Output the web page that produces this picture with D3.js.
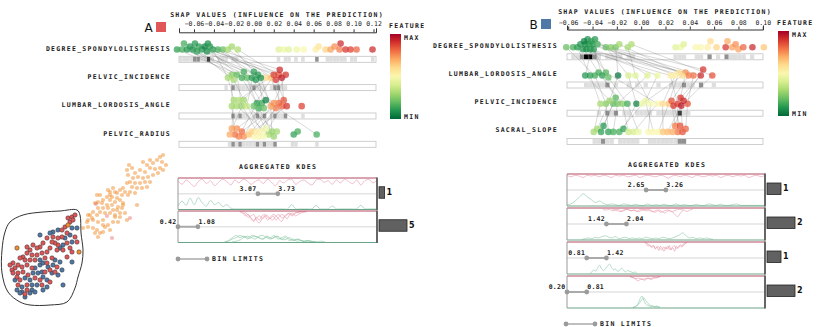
<!DOCTYPE html>
<html><head><meta charset="utf-8">
<script src="https://cdn.jsdelivr.net/npm/d3@7/dist/d3.min.js"></script>
<style>
html,body{margin:0;padding:0;background:#fff;}
svg{display:block;}
.lbl{font-family:"DejaVu Sans Mono",monospace;font-weight:bold;font-size:6.5px;letter-spacing:1.3px;fill:#1a1a1a;}
.tick text{font-family:"DejaVu Sans Mono",monospace;font-size:6.5px;fill:#222;}
</style></head><body>
<svg id="chart" width="830" height="327"></svg>
<script>
// ---------------- DATA ----------------
const leftFeatures = ["DEGREE_SPONDYLOLISTHESIS","PELVIC_INCIDENCE","LUMBAR_LORDOSIS_ANGLE","PELVIC_RADIUS"];
const rightFeatures = ["DEGREE_SPONDYLOLISTHESIS","LUMBAR_LORDOSIS_ANGLE","PELVIC_INCIDENCE","SACRAL_SLOPE"];
const leftTicks = [-0.06,-0.04,-0.02,0,0.02,0.04,0.06,0.08,0.10,0.12];
const rightTicks = [-0.06,-0.04,-0.02,0,0.02,0.04,0.06,0.08,0.10];

// SHAP values of the selected (linked) instances, one array per feature row
const leftLinkedShap = [
 [-0.077,-0.072,-0.067,-0.061,-0.057,-0.052,-0.049,-0.046,-0.041,-0.036,-0.031,-0.026,-0.022,-0.016,-0.064,-0.055,-0.047,-0.070,-0.059,-0.044],
 [-0.007,0.012,-0.022,0.002,-0.017,0.025,-0.012,0.007,-0.026,0.017,-0.002,0.022,0.000,0.028,-0.020,0.032,-0.010,0.004,0.020,0.026],
 [0.008,-0.017,-0.022,0.022,-0.012,0.025,0.003,0.017,-0.020,0.028,0.012,0.033,-0.007,0.030,-0.010,0.020,0.005,0.010,0.000,-0.015],
 [-0.010,0.015,-0.019,0.000,-0.024,0.005,-0.015,0.018,-0.022,0.010,0.063,-0.005,0.023,-0.012,0.008,-0.002,0.020,-0.017,0.012,0.003]
];
// normalized feature values (0 = min, 1 = max)
const leftLinkedVal = [
 [0.12,0.15,0.1,0.08,0.12,0.1,0.05,0.08,0.12,0.15,0.2,0.3,0.3,0.32,0.1,0.12,0.08,0.15,0.1,0.12],
 [0.2,0.6,0.25,0.1,0.2,0.85,0.15,0.08,0.3,0.65,0.1,0.9,0.12,0.95,0.3,0.9,0.15,0.1,0.88,0.92],
 [0.15,0.3,0.3,0.78,0.28,0.8,0.12,0.72,0.3,0.82,0.05,0.9,0.35,0.85,0.3,0.75,0.15,0.2,0.2,0.32],
 [0.75,0.3,0.8,0.5,0.7,0.52,0.78,0.28,0.72,0.48,0.15,0.65,0.3,0.8,0.5,0.62,0.28,0.75,0.45,0.55]
];
const leftExtraShap = [[0.025,0.030,0.035,0.043,0.050,0.062,0.065,0.072,0.077,0.081,0.086,0.087,0.092,0.097,0.103,0.119],[],[0.048],[0.040,0.044]];
const leftExtraVal = [[0.42,0.45,0.42,0.45,0.5,0.55,0.58,0.62,0.72,0.75,0.78,0.92,0.9,0.88,0.82,0.92],[],[0.88],[0.12,0.15]];

const rightLinkedShap = [
 [-0.0616,-0.056,-0.0525,-0.048,-0.046,-0.043,-0.040,-0.038,-0.029,-0.025,-0.021,-0.018,-0.011,-0.008,-0.050,-0.044,-0.041,-0.047,-0.039,-0.045,-0.036,-0.042],
 [-0.038,0.024,-0.042,0.0365,-0.029,0.043,-0.046,0.0052,-0.0105,0.051,-0.019,0.031,-0.0047,0.0585,-0.035,0.028,-0.032,0.039,-0.027,0.0134,0.049,0.034],
 [-0.029,0.030,-0.0335,0.0324,0.0134,0.0382,-0.023,-0.0195,-0.0039,0.0349,-0.026,0.0225,0.0077,0.033,-0.0154,0.0176,-0.021,0.025,-0.0113,0.0035,0.0266,0.001],
 [-0.027,0.030,-0.039,0.034,-0.0063,0.0366,-0.031,-0.023,-0.0146,0.0258,-0.036,0.0143,0.006,0.0217,-0.0105,0.018,-0.033,0.028,-0.0022,0.010,0.032,-0.018]
];
const rightLinkedVal = [
 [0.2,0.15,0.12,0.1,0.08,0.1,0.12,0.1,0.2,0.25,0.22,0.3,0.3,0.32,0.1,0.08,0.12,0.05,0.1,0.08,0.15,0.1],
 [0.15,0.55,0.12,0.75,0.18,0.8,0.1,0.42,0.4,0.9,0.02,0.58,0.42,0.85,0.15,0.55,0.12,0.78,0.2,0.45,0.92,0.6],
 [0.25,0.88,0.3,0.9,0.5,0.85,0.2,0.22,0.05,0.92,0.28,0.65,0.48,0.95,0.25,0.6,0.18,0.85,0.15,0.45,0.9,0.45],
 [0.12,0.8,0.3,0.85,0.4,0.82,0.1,0.15,0.12,0.7,0.3,0.5,0.5,0.68,0.38,0.65,0.12,0.78,0.45,0.5,0.85,0.15]
];
const rightExtraShap = [[0.0283,0.0325,0.035,0.0448,0.049,0.0547,0.057,0.062,0.0695,0.071,0.075,0.0777,0.080,0.084,0.0915,0.1009],[],[],[]];
const rightExtraVal = [[0.42,0.45,0.42,0.5,0.5,0.55,0.6,0.62,0.9,0.7,0.72,0.75,0.72,0.82,0.92,0.65],[],[],[]];

// Aggregated KDE bins
const leftKdeDomain = [0.42, 7.02];
const leftBinLimits = [[3.07,3.73],[0.42,1.08]];
const leftBinCounts = [1,5];
const rightKdeDomain = [0.20, 6.33];
const rightBinLimits = [[2.65,3.26],[1.42,2.04],[0.81,1.42],[0.20,0.81]];
const rightBinCounts = [1,2,1,2];

// KDE curves (density samples between "from" and "to" feature values)
const leftKdeRed = [
 [{from:0.42,to:7.02,v:[0.15,0.4,0.1,0.3,0.55,0.2,0.05,0.35,0.15,0.5,0.25,0.05,0.2,0.45,0.1,0.3,0.05,0.15,0.4,0.2,0.1,0.35,0.05,0.25,0.5,0.15,0.3,0.1,0.05,0.4,0.2,0.1,0.3,0.45,0.1,0.05,0.25,0.15,0.4,0.1,0.3,0.05,0.2,0.35,0.1,0.45,0.15,0.05,0.3,0.1]}],
 [{from:2.47,to:4.68,v:[0,0.1,0.3,0.2,0.5,0.7,0.4,0.6,0.3,0.2,0.4,0.5,0.3,0.6,0.4,0.2,0.3,0.5,0.2,0.1,0.3,0.2,0.1,0.05,0]},
  {from:2.47,to:4.68,v:[0,0.05,0.2,0.4,0.3,0.2,0.6,0.8,0.5,0.3,0.6,0.4,0.2,0.3,0.5,0.7,0.4,0.2,0.1,0.3,0.1,0.05,0,0,0]},
  {from:2.6,to:4.5,v:[0,0.15,0.35,0.6,0.45,0.3,0.5,0.25,0.4,0.6,0.35,0.2,0.45,0.3,0.15,0.25,0.1,0.05,0]}]
];
const leftKdeGreen = [
 [{from:0.42,to:7.02,v:[0.2,0.55,0.25,0.75,0.3,0.8,0.4,0.2,0.6,0.3,0.45,0.15,0.3,0.05,0,0,0,0,0,0,0,0,0,0,0,0,0,0,0.3,0,0,0,0,0,0.25,0,0,0,0.2,0,0,0,0,0,0,0.25,0,0,0,0]}],
 [{from:1.97,to:5.0,v:[0,0.1,0.3,0.45,0.3,0.4,0.2,0.45,0.4,0.3,0.2,0.4,0.3,0.45,0.2,0.3,0.4,0.2,0.1,0.2,0.1,0.05,0.1,0,0]},
  {from:1.97,to:5.0,v:[0,0.05,0.2,0.3,0.45,0.35,0.4,0.3,0.2,0.4,0.45,0.3,0.2,0.3,0.4,0.2,0.3,0.1,0.2,0.05,0.1,0,0.05,0,0]},
  {from:2.2,to:5.3,v:[0,0.05,0.15,0.35,0.25,0.4,0.3,0.2,0.35,0.25,0.4,0.2,0.15,0.3,0.1,0.2,0.05,0.1,0.05,0,0.05,0]}]
];
const rightKdeRed = [
 [{from:0.20,to:6.33,v:[0.05,0.15,0.05,0.1,0.2,0.05,0.1,0.05,0.15,0.05,0.1,0.2,0.05,0.1,0.05,0.15,0.1,0.05,0.2,0.1,0.05,0.1,0.15,0.05,0.1,0.25,0.1,0.05,0.15,0.05,0.1,0.2,0.05,0.1,0.15,0.05,0.1,0.05,0.2,0.1,0.05,0.15,0.05,0.1,0.05,0.2,0.1,0.05,0.15,0.05]}],
 [{from:1.31,to:4.10,v:[0.05,0.1,0.05,0.15,0.1,0.05,0.2,0.1,0.05,0.15,0.1,0.2,0.05,0.1,0.15,0.05,0.2,0.25,0.1,0.2,0.3,0.15,0.2,0.35,0.55,0.3,0.1,0.2,0.1,0.05]},
  {from:1.6,to:3.8,v:[0.05,0.1,0.2,0.1,0.05,0.15,0.1,0.2,0.1,0.05,0.15,0.2,0.1,0.25,0.15,0.1,0.2,0.1,0.05,0.1]}],
 [{from:2.61,to:3.91,v:[0,0.1,0.25,0.15,0.35,0.2,0.45,0.3,0.55,0.25,0.4,0.6,0.3,0.45,0.2,0.5,0.35,0.6,0.25,0.4,0.2,0.3,0.1,0.05,0]},
  {from:2.61,to:3.91,v:[0,0.05,0.15,0.3,0.2,0.4,0.25,0.35,0.5,0.3,0.45,0.25,0.5,0.35,0.2,0.4,0.3,0.15,0.25,0.1,0]}],
 [{from:2.15,to:3.08,v:[0,0.05,0.1,0.2,0.3,0.2,0.15,0.25,0.2,0.1,0.15,0.1,0.05,0.1,0.05,0]},
  {from:2.15,to:3.08,v:[0,0.05,0.15,0.1,0.2,0.15,0.1,0.2,0.1,0.05,0]}]
];
const rightKdeGreen = [
 [{from:0.20,to:6.33,v:[0.05,0.1,0.3,0.55,0.8,0.6,0.4,0.2,0.3,0.15,0.05,0.1,0.05,0,0.1,0.05,0,0.08,0,0,0.1,0,0.05,0,0.08,0,0,0.1,0,0.05,0,0,0.08,0,0,0.1,0.05,0,0.08,0,0,0.05,0.1,0,0,0,0,0,0,0]}],
 [{from:0.66,to:4.72,v:[0,0.05,0.1,0.05,0.15,0.1,0.2,0.25,0.15,0.1,0.2,0.05,0.1,0.15,0.05,0.1,0.05,0.1,0.05,0.15,0.1,0.05,0.1,0.05,0.15,0.1,0.05,0.1,0.2,0.3,0.45,0.25,0.1,0.15,0.05,0.1,0.05,0.1,0.05,0]}],
 [{from:0.91,to:2.37,v:[0,0.1,0.25,0.15,0.4,0.55,0.3,0.2,0.35,0.5,0.65,0.4,0.25,0.3,0.15,0.2,0.35,0.25,0.1,0.2,0.15,0.1,0.05,0.1,0]}],
 [{from:2.24,to:3.08,v:[0,0.05,0.1,0.3,0.6,0.78,0.5,0.25,0.15,0.1,0.05,0.1,0.05,0.1,0.05,0]},
  {from:2.24,to:3.08,v:[0,0.05,0.2,0.45,0.65,0.4,0.2,0.1,0.05,0.05,0]}]
];

// 2-D projection (embedding units)
const lassoOutline = [[-80,18],[-67,25],[-47,28],[-30,29],[-13,30],[-10,25],[-9,7],[-7,-10],[-8,-23],[-12,-37],[-15,-48],[-23,-62],[-40,-65],[-60,-65],[-70,-62],[-82,-52],[-88,-33],[-88,-10],[-85,8]];
const orangePoints = [[73,85],[70,83],[67,80],[72,78],[76,75],[63,77],[60,80],[57,75],[53,78],[39,75],[42,72],[37,70],[45,67],[50,70],[55,68],[60,72],[65,71],[70,72],[73,70],[68,67],[63,65],[58,63],[53,62],[48,63],[43,62],[38,65],[40,58],[45,57],[50,57],[55,58],[60,58],[57,53],[52,52],[47,52],[42,53],[37,57],[33,52],[30,50],[35,48],[40,48],[45,47],[38,45],[32,45],[27,47],[23,52],[20,48],[22,43],[27,42],[30,40],[25,38],[20,40],[17,43],[13,40],[10,45],[8,38],[12,37],[17,35],[22,35],[18,32],[13,32],[23,30],[28,33],[33,35],[47,35],[30,27],[25,25],[20,27],[15,27],[10,28],[7,25],[3,20],[8,18],[13,20],[0,25],[-2,20],[7,45],[5,37],[8,32],[3,28],[-2,25],[2,22],[-3,18],[-2,13],[3,12],[7,10],[10,7],[13,8],[15,13],[20,10],[13,15],[18,15],[23,18],[28,18],[25,23],[30,23],[8,3],[5,7],[-7,12],[27,30],[32,32],[35,27],[37,20],[33,37],[25,48],[18,50],[20,45]];
const pinkPoints = [[6,36],[17,24],[40,22],[22,2]];
const darkOrangePoints = [[-22,15],[-73,-8],[-11,-12]];
const redPoints = [[-22,22],[-18,23],[-15,25],[-20,18],[-17,20],[-25,13],[-28,10],[-23,7],[-28,3],[-32,2],[-37,3],[-15,3],[-13,-2],[-23,-3],[-32,-5],[-35,-3],[-38,-2],[-43,2],[-47,-3],[-50,-7],[-53,-8],[-57,-5],[-60,-10],[-63,-7],[-20,-8],[-27,-10],[-33,-10],[-40,-8],[-43,-12],[-48,-13],[-53,-15],[-58,-15],[-63,-13],[-67,-17],[-70,-18],[-65,-20],[-60,-20],[-55,-20],[-45,-18],[-38,-18],[-23,-17],[-18,-12],[-77,-23],[-80,-25],[-75,-28],[-78,-30],[-77,-33],[-72,-25],[-68,-27],[-63,-25],[-58,-28],[-43,-23],[-33,-27],[-72,-33],[-67,-32],[-62,-35],[-45,-32],[-40,-30],[-35,-32],[-73,-37],[-70,-40],[-55,-38],[-50,-40],[-40,-42],[-72,-45],[-63,-45],[-48,-45],[-63,-50],[-65,-54]];
const bluePoints = [[-18,12],[-13,12],[-32,10],[-37,8],[-20,5],[-25,2],[-40,7],[-18,-2],[-27,-5],[-50,5],[-30,-8],[-50,-20],[-35,-20],[-30,-22],[-55,-28],[-50,-25],[-47,-23],[-42,-27],[-37,-25],[-28,-30],[-18,-22],[-57,-33],[-52,-33],[-48,-32],[-38,-33],[-32,-35],[-75,-40],[-65,-38],[-60,-40],[-47,-37],[-43,-40],[-27,-45],[-68,-47],[-58,-45],[-53,-45],[-43,-47],[-73,-50],[-68,-52],[-58,-50],[-47,-50],[-60,-53],[-55,-52],[-65,-57],[-70,-53]];

// ---------------- DRAWING ----------------
const svg = d3.select("#chart");
const defs = svg.append("defs");
const colorOf = v => d3.interpolateRdYlGn(1 - v);

function swarm(items, cy){
  const offs = [0,-3,-6,2,-8];
  const placed = [];
  items.slice().sort((a,b)=>a.px-b.px).forEach(d=>{
    let best = 0, bestDist = -1;
    for (const o of offs){
      let m = Infinity;
      placed.forEach(q=>{ m = Math.min(m, Math.hypot(q.px-d.px, q.o-o)); });
      if (m >= 4.2){ best = o; break; }
      if (m > bestDist){ bestDist = m; best = o; }
    }
    d.o = best; d.py = cy + best; placed.push(d);
  });
}

function drawShapPanel(p){
  const g = svg.append("g");
  const x = d3.scaleLinear().domain(p.domain).range(p.range);
  const rowTop = d3.scaleLinear().domain([0, p.features.length-1]).range(p.stripTops);

  g.append("text").attr("class","lbl").attr("x",p.titlePos[0]).attr("y",p.titlePos[1])
    .attr("text-anchor","middle").attr("dominant-baseline","central").text("SHAP VALUES (INFLUENCE ON THE PREDICTION)");
  g.append("text").attr("x",p.letterPos[0]).attr("y",p.letterPos[1]).attr("font-family","DejaVu Sans, sans-serif")
    .attr("font-size",12).attr("fill","#111").text(p.letter);
  g.append("rect").attr("x",p.squarePos[0]).attr("y",p.squarePos[1]).attr("width",10).attr("height",10).attr("fill",p.squareColor);

  const axis = d3.axisTop(x).tickValues(p.ticks).tickFormat(d3.format(".2f")).tickSize(3).tickSizeOuter(4).tickPadding(p.tickPad);
  const ag = g.append("g").attr("transform",`translate(0,${p.axisY})`).call(axis);
  ag.select(".domain").attr("stroke","#333");
  ag.selectAll(".tick line").attr("stroke","#333");

  const rows = p.features.map((f,k)=>{
    const items = p.linkedShap[k].map((s,i)=>({shap:s, val:p.linkedVal[k][i], inst:i}))
      .concat(p.extraShap[k].map((s,i)=>({shap:s, val:p.extraVal[k][i], inst:-1})));
    items.forEach(d=>{ d.px = x(d.shap); });
    const top = rowTop(k);
    const cy = top - p.dotGap;
    swarm(items, cy);
    return {f, items, top, cy};
  });

  rows.forEach(r=>{
    g.append("text").attr("class","lbl").attr("x",p.labelX).attr("y",r.cy + p.labelDy)
      .attr("text-anchor","end").attr("dominant-baseline","central").text(r.f);
    g.append("rect").attr("x",p.range[0]).attr("y",r.top).attr("width",p.range[1]-p.range[0]).attr("height",p.stripH)
      .attr("fill","#fff").attr("stroke","#c4c4c4").attr("stroke-width",0.8);
    const bins = d3.bin().domain(p.domain).thresholds(d3.range(p.domain[0], p.domain[1], p.binStep))(r.items.map(d=>d.shap));
    g.selectAll(null).data(bins.filter(b=>b.length>0)).join("rect")
      .attr("x",b=>x(b.x0)).attr("width",b=>Math.max(1, x(b.x1)-x(b.x0)))
      .attr("y",r.top+0.6).attr("height",p.stripH-1.2)
      .attr("fill",b=>d3.interpolateGreys(Math.min(1, 0.22 + 0.3*(b.length-1))));
  });

  const nInst = p.linkedShap[0].length;
  const segs = [];
  for (let k=0;k<rows.length-1;k++){
    for (let i=0;i<nInst;i++){
      const a = rows[k].items.find(d=>d.inst===i), b = rows[k+1].items.find(d=>d.inst===i);
      segs.push([a,b]);
    }
  }
  g.selectAll(null).data(segs).join("line")
    .attr("x1",s=>s[0].px).attr("y1",s=>s[0].py).attr("x2",s=>s[1].px).attr("y2",s=>s[1].py)
    .attr("stroke","#666").attr("stroke-opacity",0.45).attr("stroke-width",0.55);

  rows.forEach(r=>{
    g.selectAll(null).data(r.items).join("circle")
      .attr("cx",d=>d.px).attr("cy",d=>d.py).attr("r",3.3)
      .attr("fill",d=>colorOf(d.val)).attr("fill-opacity",0.72);
  });

  // color legend
  const gid = "grad" + p.letter;
  const lg = defs.append("linearGradient").attr("id",gid).attr("x1",0).attr("y1",0).attr("x2",0).attr("y2",1);
  d3.range(0,1.0001,0.1).forEach(t=> lg.append("stop").attr("offset",t).attr("stop-color",d3.interpolateRdYlGn(t)));
  const L = p.legend;
  g.append("text").attr("class","lbl").attr("x",L.x-1).attr("y",L.featY).attr("dominant-baseline","central").text("FEATURE");
  g.append("rect").attr("x",L.x).attr("y",L.y0).attr("width",11).attr("height",L.y1-L.y0).attr("fill",`url(#${gid})`);
  g.append("text").attr("class","lbl").attr("x",L.x+14).attr("y",L.y0+3.5).attr("dominant-baseline","central").text("MAX");
  g.append("text").attr("class","lbl").attr("x",L.x+14).attr("y",L.y1-2).attr("dominant-baseline","central").text("MIN");
}

function drawKde(p){
  const g = svg.append("g");
  const x = d3.scaleLinear().domain(p.domain).range(p.range);
  const bw = d3.scaleLinear().domain([0, d3.max(p.counts)]).range([0, 28]);
  const [x0, x1] = p.range;
  g.append("text").attr("class","lbl").attr("x",p.titleX).attr("y",p.titleY)
    .attr("text-anchor","middle").attr("dominant-baseline","central").text("AGGREGATED KDES");

  p.limits.forEach((lim,i)=>{
    const t = p.top + i*p.step, h = p.h, mid = t + h/2, b = t + h;
    const half = h/2 - 1.5;
    g.append("rect").attr("x",x0).attr("y",t).attr("width",x1-x0).attr("height",h).attr("fill","#fff");
    g.append("line").attr("x1",x0).attr("x2",x1).attr("y1",mid).attr("y2",mid).attr("stroke","#e3e3e3").attr("stroke-width",1.5);
    const drawCurves = (curves, color, down) => curves.forEach(c=>{
      const xi = d3.scaleLinear().domain([0, c.v.length-1]).range([c.from, c.to]);
      const ln = d3.line().x((v,j)=>x(xi(j))).y(v=> down ? t+0.6+v*half : b-0.6-v*half).curve(d3.curveCatmullRom);
      g.append("path").attr("d",ln(c.v)).attr("fill","none").attr("stroke",color).attr("stroke-width",0.7).attr("stroke-opacity",0.8);
    });
    drawCurves(p.red[i], "#e68ea2", true);
    drawCurves(p.green[i], "#7dc29c", false);
    g.append("line").attr("x1",x0).attr("x2",x1).attr("y1",t).attr("y2",t).attr("stroke","#b34a60").attr("stroke-width",1);
    g.append("line").attr("x1",x0).attr("x2",x1).attr("y1",b).attr("y2",b).attr("stroke","#6aa487").attr("stroke-width",1);
    g.append("line").attr("x1",x0).attr("x2",x0).attr("y1",t).attr("y2",b).attr("stroke","#999").attr("stroke-width",1);
    g.append("line").attr("x1",x1).attr("x2",x1).attr("y1",t-0.5).attr("y2",b+0.5).attr("stroke","#666").attr("stroke-width",2);

    const w = bw(p.counts[i]);
    g.append("rect").attr("x",x1+2).attr("y",mid-7).attr("width",w).attr("height",11.5)
      .attr("fill","#616161").attr("stroke","#222").attr("stroke-width",0.8);
    g.append("text").attr("x",x1+2+w+2).attr("y",mid-1.2).attr("dominant-baseline","central")
      .attr("font-family","DejaVu Sans, sans-serif").attr("font-weight","bold").attr("font-size",8).attr("fill","#111").text(p.counts[i]);

    const la = x(lim[0]), lb = x(lim[1]);
    g.append("line").attr("x1",la).attr("x2",lb).attr("y1",mid).attr("y2",mid).attr("stroke","#aaa").attr("stroke-width",2);
    g.selectAll(null).data(lim).join("circle").attr("cx",d=>x(d)).attr("cy",mid).attr("r",2.4).attr("fill","#9b9b9b");
    g.append("text").attr("class","lbl").style("letter-spacing","0.3px").attr("x",la-1.5).attr("y",mid-4.8)
      .attr("text-anchor","end").attr("dominant-baseline","central").text(d3.format(".2f")(lim[0]));
    g.append("text").attr("class","lbl").style("letter-spacing","0.3px").attr("x",lb+0.5).attr("y",mid-4.8)
      .attr("dominant-baseline","central").text(d3.format(".2f")(lim[1]));
  });

  const lx = p.legendPos[0], ly = p.legendPos[1];
  g.append("line").attr("x1",lx).attr("x2",lx+29).attr("y1",ly).attr("y2",ly).attr("stroke","#aaa").attr("stroke-width",1.5);
  g.selectAll(null).data([lx, lx+29]).join("circle").attr("cx",d=>d).attr("cy",ly).attr("r",2.4).attr("fill","#9b9b9b");
  g.append("text").attr("class","lbl").attr("x",lx+34).attr("y",ly).attr("dominant-baseline","central").text("BIN LIMITS");
}

drawShapPanel({
  features:leftFeatures, ticks:leftTicks, linkedShap:leftLinkedShap, linkedVal:leftLinkedVal,
  extraShap:leftExtraShap, extraVal:leftExtraVal,
  domain:[-0.075,0.1225], range:[179,376], axisY:32.3, tickPad:3,
  stripTops:[56.3,141.3], stripH:6, dotGap:6.8, labelX:171, labelDy:-0.8, binStep:0.0035,
  titlePos:[277,14.7], letter:"A", letterPos:[144.5,32], squarePos:[156,22], squareColor:"#e15759",
  legend:{x:390, featY:25.7, y0:34, y1:119}
});
drawShapPanel({
  features:rightFeatures, ticks:rightTicks, linkedShap:rightLinkedShap, linkedVal:rightLinkedVal,
  extraShap:rightExtraShap, extraVal:rightExtraVal,
  domain:[-0.061,0.1002], range:[567,763], axisY:29.5, tickPad:1.5,
  stripTops:[53.8,138.4], stripH:6, dotGap:6.5, labelX:558, labelDy:-1.5, binStep:0.0035,
  titlePos:[665,12.2], letter:"B", letterPos:[529.5,29], squarePos:[541,19], squareColor:"#4e79a7",
  legend:{x:778, featY:23.3, y0:31, y1:116}
});

drawKde({
  domain:leftKdeDomain, range:[178,377], limits:leftBinLimits, counts:leftBinCounts,
  red:leftKdeRed, green:leftKdeGreen, top:178, step:33, h:31.5,
  titleX:278, titleY:167, legendPos:[178,259]
});
drawKde({
  domain:rightKdeDomain, range:[567,765], limits:rightBinLimits, counts:rightBinCounts,
  red:rightKdeRed, green:rightKdeGreen, top:174, step:34, h:32,
  titleX:667, titleY:165, legendPos:[566,324]
});

// projection scatter
(function(){
  const g = svg.append("g");
  const sx = d3.scaleLinear().domain([-90,90]).range([0,180]);
  const sy = d3.scaleLinear().domain([-90,90]).range([330,150]);
  g.selectAll(null).data(orangePoints).join("circle").attr("cx",d=>sx(d[0])).attr("cy",d=>sy(d[1])).attr("r",2.1)
    .attr("fill","#f28e2b").attr("fill-opacity",0.5);
  g.selectAll(null).data(pinkPoints).join("circle").attr("cx",d=>sx(d[0])).attr("cy",d=>sy(d[1])).attr("r",2.1)
    .attr("fill","#e15759").attr("fill-opacity",0.4);
  g.append("path").attr("d", d3.line().x(d=>sx(d[0])).y(d=>sy(d[1])).curve(d3.curveCatmullRomClosed.alpha(0.5))(lassoOutline))
    .attr("fill","none").attr("stroke","#333").attr("stroke-width",1);
  const dark = (arr, col) => g.selectAll(null).data(arr).join("circle").attr("cx",d=>sx(d[0])).attr("cy",d=>sy(d[1])).attr("r",2.2)
    .attr("fill",col).attr("stroke","#333").attr("stroke-width",0.5);
  dark(bluePoints, "#4e79a7");
  dark(redPoints, "#e15759");
  dark(darkOrangePoints, "#f28e2b");
})();
</script></body></html>
